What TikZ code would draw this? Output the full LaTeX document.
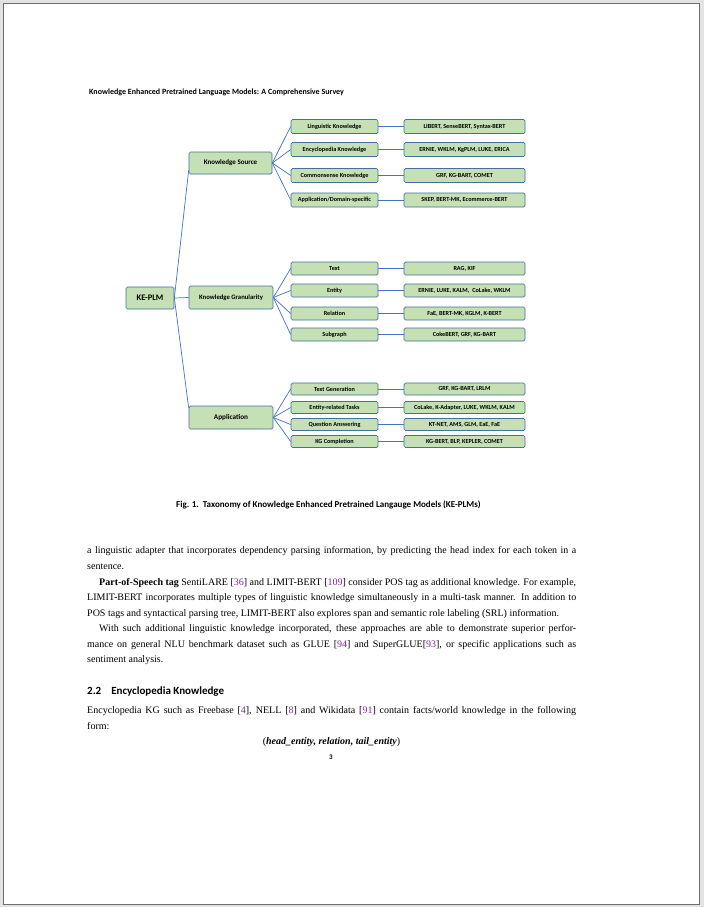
\documentclass[tikz,border=0pt]{standalone}
\usepackage{fontspec}
\setmainfont{Liberation Serif}
\newfontfamily\boxfont{Carlito}
\newfontfamily\hdfont{Carlito}
\definecolor{boxfill}{RGB}{197,224,180}
\definecolor{boxline}{RGB}{65,113,156}
\definecolor{conn}{RGB}{68,114,196}
\definecolor{citec}{RGB}{130,40,150}
\definecolor{pagebg}{RGB}{226,226,226}
\definecolor{pageedge}{RGB}{110,110,110}
\newcommand{\cit}[1]{[\textcolor{citec}{#1}]}
\newcommand{\jline}[1]{\makebox[489pt][s]{#1}}
\begin{document}
\begin{tikzpicture}[x=1pt,y=-1pt,
  box/.style={draw=boxline, fill=boxfill, rounded corners=1.5pt, line width=0.7pt, inner sep=0pt, align=center},
  rootbox/.style={box, minimum width=48pt, minimum height=22pt, font=\boxfont\bfseries\fontsize{8.5}{9}\selectfont},
  midbox/.style={box, minimum width=84pt, minimum height=23pt, font=\boxfont\bfseries\fontsize{7}{8}\selectfont},
  leafbox/.style={box, minimum width=87pt, font=\boxfont\bfseries\fontsize{6.2}{7}\selectfont},
  refbox/.style={box, minimum width=121pt, font=\boxfont\bfseries\fontsize{6.2}{7}\selectfont},
  link/.style={draw=conn, line width=0.7pt},
  txt/.style={anchor=base west, inner sep=0pt, font=\fontsize{10}{12}\selectfont},
]
\useasboundingbox (0,0) rectangle (704,907);
\fill[pagebg] (0,0) rectangle (704,907);
\draw[pageedge, fill=white, line width=0.8pt] (3,3) rectangle (699,904);

% header
\node[anchor=base west, inner sep=0pt, font=\hdfont\bfseries\fontsize{8}{9}\selectfont] (hdr) at (89,94) {Knowledge Enhanced Pretrained Language Models: A Comprehensive Survey};

% taxonomy
\node[rootbox] (root) at (150,298) {KE-PLM};
\node[midbox, minimum width=83pt, minimum height=22pt] (ks) at (230.5,163) {Knowledge Source};
\node[midbox, font=\boxfont\bfseries\fontsize{6.7}{8}\selectfont] (kg) at (231,297.5) {Knowledge Granularity};
\node[midbox, font=\boxfont\bfseries\fontsize{7.2}{8}\selectfont] (app) at (231,417.5) {Application};

% knowledge source
\node[leafbox, minimum height=14pt] (ks1) at (334.5,126.5) {Linguistic Knowledge};
\node[leafbox, minimum height=14pt] (ks2) at (334.5,149.5) {Encyclopedia Knowledge};
\node[leafbox, minimum height=14pt] (ks3) at (334.5,175.5) {Commonsense Knowledge};
\node[leafbox, minimum height=14pt] (ks4) at (334.5,200) {Application/Domain-specific};
\node[refbox, minimum height=14pt] (ksr1) at (464.5,126.5) {LIBERT, SenseBERT, Syntax-BERT};
\node[refbox, minimum height=14pt] (ksr2) at (464.5,149.5) {ERNIE, WKLM, KgPLM, LUKE, ERICA};
\node[refbox, minimum height=14pt] (ksr3) at (464.5,175.5) {GRF, KG-BART, COMET};
\node[refbox, minimum height=14pt] (ksr4) at (464.5,200) {SKEP, BERT-MK, Ecommerce-BERT};

% knowledge granularity
\node[leafbox, minimum height=13pt] (kg1) at (334.5,268.5) {Text};
\node[leafbox, minimum height=13pt] (kg2) at (334.5,290.5) {Entity};
\node[leafbox, minimum height=13pt] (kg3) at (334.5,313.5) {Relation};
\node[leafbox, minimum height=13pt] (kg4) at (334.5,334.5) {Subgraph};
\node[refbox, minimum height=13pt] (kgr1) at (464.5,268.5) {RAG, KIF};
\node[refbox, minimum height=13pt] (kgr2) at (464.5,290.5) {ERNIE, LUKE, KALM,\ \ CoLake, WKLM};
\node[refbox, minimum height=13pt] (kgr3) at (464.5,313.5) {FaE, BERT-MK, KGLM, K-BERT};
\node[refbox, minimum height=13pt] (kgr4) at (464.5,334.5) {CokeBERT, GRF, KG-BART};

% application
\node[leafbox, minimum height=12pt] (ap1) at (334.5,389) {Text Generation};
\node[leafbox, minimum height=12pt] (ap2) at (334.5,407.5) {Entity-related Tasks};
\node[leafbox, minimum height=12pt] (ap3) at (334.5,424.5) {Question Answering};
\node[leafbox, minimum height=12pt] (ap4) at (334.5,441.5) {KG Completion};
\node[refbox, minimum height=12pt] (apr1) at (464.5,389) {GRF, KG-BART, LRLM};
\node[refbox, minimum height=12pt] (apr2) at (464.5,407.5) {CoLake, K-Adapter, LUKE, WKLM, KALM};
\node[refbox, minimum height=12pt] (apr3) at (464.5,424.5) {KT-NET, AMS, GLM, EaE, FaE};
\node[refbox, minimum height=12pt] (apr4) at (464.5,441.5) {KG-BERT, BLP, KEPLER, COMET};

% connectors
\draw[link] (root.east) -- (ks.190);
\draw[link] (root.east) -- (kg.west);
\draw[link] (root.east) -- (app.167);
\foreach \c in {ks1,ks2,ks3,ks4} \draw[link] (ks.east) -- (\c.west);
\foreach \c in {kg1,kg2,kg3,kg4} \draw[link] (kg.east) -- (\c.west);
\foreach \c in {ap1,ap2,ap3,ap4} \draw[link] (app.east) -- (\c.west);
\foreach \a/\b in {ks1/ksr1,ks2/ksr2,ks3/ksr3,ks4/ksr4,kg1/kgr1,kg2/kgr2,kg3/kgr3,kg4/kgr4,ap1/apr1,ap2/apr2,ap3/apr3,ap4/apr4} \draw[link] (\a.east) -- (\b.west);

% caption
\node[anchor=base west, inner sep=0pt, font=\hdfont\bfseries\fontsize{9}{10}\selectfont] (cap) at (176,507) {Fig. 1.\ \ Taxonomy of Knowledge Enhanced Pretrained Langauge Models (KE-PLMs)};

% body text
\node[txt] (l1) at (87,553) {\jline{a linguistic adapter that incorporates dependency parsing information, by predicting the head index for each token in a}};
\node[txt] (l2) at (87,569) {sentence.};
\node[txt] (l3) at (99,585) {\makebox[477pt][s]{\textbf{Part-of-Speech tag} SentiLARE \cit{36} and LIMIT-BERT \cit{109} consider POS tag as additional knowledge. For example,}};
\node[txt] (l4) at (87,600.5) {\jline{LIMIT-BERT incorporates multiple types of linguistic knowledge simultaneously in a multi-task manner. In addition to}};
\node[txt] (l5) at (87,616) {POS tags and syntactical parsing tree, LIMIT-BERT also explores span and semantic role labeling (SRL) information.};
\node[txt] (l6) at (99,631.5) {\makebox[477pt][s]{With such additional linguistic knowledge incorporated, these approaches are able to demonstrate superior perfor-}};
\node[txt] (l7) at (87,647) {\jline{mance on general NLU benchmark dataset such as GLUE \cit{94} and SuperGLUE\cit{93}, or specific applications such as}};
\node[txt] (l8) at (87,662.5) {sentiment analysis.};
\node[anchor=base west, inner sep=0pt, font=\hdfont\bfseries\fontsize{11}{12}\selectfont] (sec) at (87,694) {2.2\hspace{10pt}Encyclopedia Knowledge};
\node[txt] (l9) at (87,713) {\jline{Encyclopedia KG such as Freebase \cit{4}, NELL \cit{8} and Wikidata \cit{91} contain facts/world knowledge in the following}};
\node[txt] (l10) at (87,729) {form:};
\node[anchor=base, inner sep=0pt, font=\fontsize{10}{12}\selectfont] (frm) at (331.5,744.5) {(\textbf{\textit{head\_entity, relation, tail\_entity}})};
\node[anchor=base, inner sep=0pt, font=\hdfont\bfseries\fontsize{7}{8}\selectfont] (pg) at (331,759) {3};
\end{tikzpicture}
\end{document}
